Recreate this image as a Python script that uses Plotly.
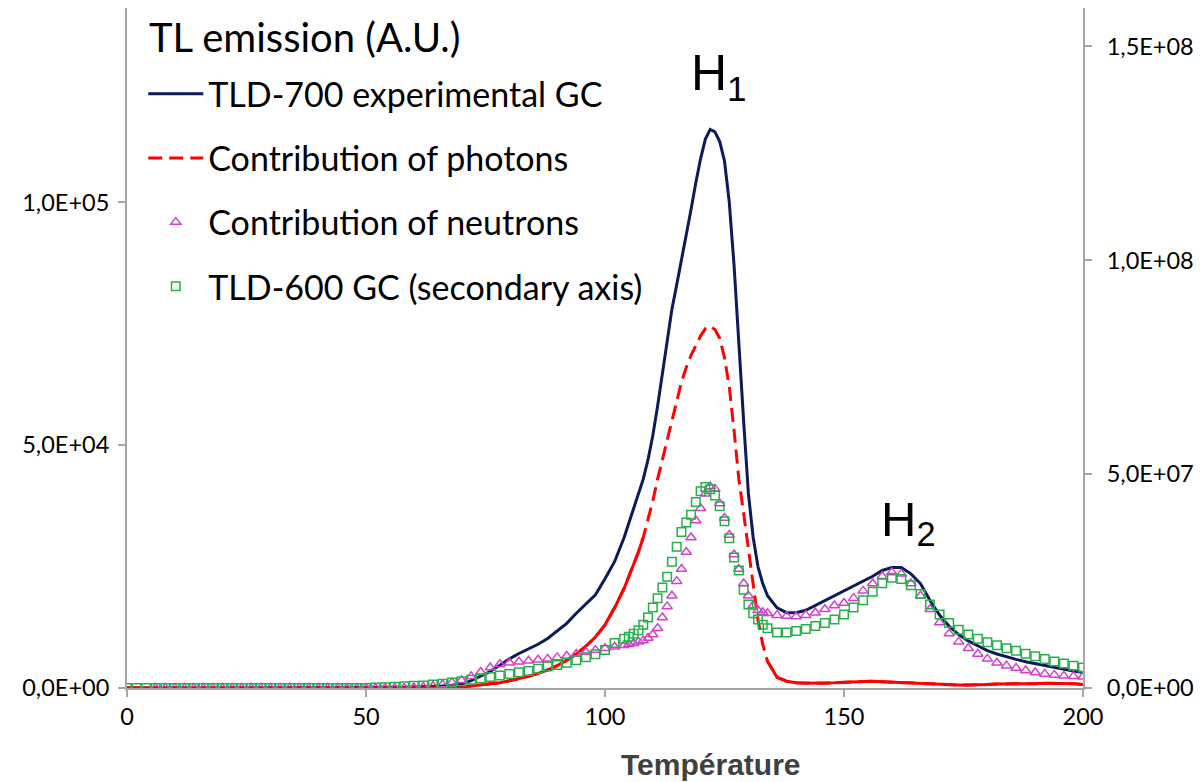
import plotly.graph_objects as go

# Temperature grid (x values): step 2, finer (step 1) around the main peak
temperature = ([0, 2, 4, 6, 8, 10, 12, 14, 16, 18, 20, 22, 24, 26, 28, 30, 32, 34, 36, 38,
                40, 42, 44, 46, 48, 50, 52, 54, 56, 58, 60, 62, 64, 66, 68, 70, 72, 74, 76, 78,
                80, 82, 84, 86, 88, 90, 92, 94, 96, 98, 100, 102]
               + [104, 105, 106, 107, 108, 109, 110, 111, 112, 113, 114, 115, 116, 117, 118, 119,
                  120, 121, 122, 123, 124, 125, 126, 127, 128, 129, 130, 131, 132, 133, 134]
               + [136, 138, 140, 142, 144, 146, 148, 150, 152, 154, 156, 158, 160, 162, 164, 166,
                  168, 170, 172, 174, 176, 178, 180, 182, 184, 186, 188, 190, 192, 194, 196, 198, 200])

# TLD-700 experimental glow curve (primary axis)
tld700 = ([0, 0, 0, 0, 0, 0, 0, 0, 0, 0, 0, 0, 0, 0, 0, 0, 0, 0, 0, 0,
           0, 20, 30, 40, 50, 60, 80, 100, 130, 160, 200, 250, 300, 400, 550, 800, 1500, 2500, 3400, 4700,
           6000, 7100, 8000, 9000, 10200, 11800, 13300, 15400, 17300, 19200, 22500, 26000]
          + [31000, 34000, 37000, 40000, 43000, 47000, 52000, 58000, 65000, 71500, 78000, 83000, 88000, 93000, 98500, 104000,
             109000, 113000, 115000, 114500, 112500, 108500, 100000, 87000, 70000, 55000, 40000, 31000, 25000, 21500, 19000]
          + [16500, 15500, 15500, 16000, 17000, 18000, 19000, 20000, 21000, 22000, 23000, 24200, 24800, 24800, 23500, 21500,
             18000, 15000, 12700, 11000, 9700, 8700, 7700, 7000, 6400, 5900, 5400, 5000, 4600, 4200, 3900, 3500, 3200])

# Contribution of photons (primary axis)
photons = ([0, 0, 0, 0, 0, 0, 0, 0, 0, 0, 0, 0, 0, 0, 0, 0, 0, 0, 0, 0,
            0, 0, 0, 0, 0, 0, 0, 0, 0, 0, 0, 0, 0, 0, 0, 200, 400, 600, 800, 1100,
            1500, 1900, 2400, 3000, 3700, 4600, 5700, 7000, 8600, 10500, 13000, 16500]
           + [20500, 23000, 25500, 28000, 31000, 34500, 38500, 43000, 47000, 51000, 55000, 59000, 63000, 66000, 68500, 70500,
              72500, 74000, 74500, 73800, 72000, 68000, 62000, 53000, 43000, 36000, 29000, 21000, 14000, 9000, 5500]
           + [2200, 1400, 1100, 1000, 1000, 1000, 1100, 1200, 1300, 1400, 1400, 1300, 1200, 1100, 1000, 900,
              800, 700, 600, 600, 600, 600, 700, 800, 800, 900, 900, 900, 1000, 1000, 1000, 900, 700])

# Contribution of neutrons (primary axis)
neutrons = ([None, None, None, 0, 0, 0, 0, 0, 0, 0, 0, 0, 0, 0, 0, 0, 0, 0, 0, 0,
             0, 0, 0, 0, 0, 0, 0, 0, 0, 0, 100, 200, 400, 700, 1100, 1600, 2400, 3300, 4200, 4900,
             5200, 5400, 5600, 5800, 6000, 6300, 6600, 7000, 7400, 7800, 8200, 8500]
            + [8800, 9000, 9200, 9500, 9800, 10300, 11000, 12300, 14500, 16800, 19000, 22000, 24500, 28000, 31000, 34500,
               37000, 40000, 41500, 41000, 38000, 35000, 31500, 27500, 24500, 21500, 19000, 17000, 16000, 15600, 15400]
            + [15000, 14800, 14700, 15000, 15500, 16200, 17000, 17500, 18500, 20000, 21500, 23000, 23800, 23500, 21500, 19000,
               16200, 13500, 11200, 9500, 8200, 7000, 6000, 5200, 4600, 4100, 3600, 3200, 2900, 2700, 2500, 2400, 2300])

# TLD-600 glow curve (secondary axis)
tld600 = ([0, 0, 0, 0, 0, 0, 0, 0, 0, 0, 0, 0, 0, 0, 0, 0, 0, 0, 0, 0,
           0, 0, 0, 0, 0, 0, 1e5, 2e5, 3e5, 4e5, 5e5, 6e5, 8e5, 1.0e6, 1.3e6, 1.6e6, 1.9e6, 2.2e6, 2.6e6, 2.9e6,
           3.3e6, 3.7e6, 4.0e6, 4.5e6, 5.0e6, 5.4e6, 5.9e6, 6.5e6, 7.2e6, 7.9e6, 8.9e6, 1.05e7]
          + [1.15e7, 1.2e7, 1.27e7, 1.35e7, 1.48e7, 1.65e7, 1.88e7, 2.1e7, 2.35e7, 2.6e7, 2.95e7, 3.3e7, 3.65e7, 3.87e7, 4.05e7, 4.35e7,
             4.6e7, 4.7e7, 4.65e7, 4.5e7, 4.25e7, 3.9e7, 3.5e7, 3.05e7, 2.75e7, 2.3e7, 1.95e7, 1.75e7, 1.6e7, 1.48e7, 1.4e7]
          + [1.3e7, 1.3e7, 1.33e7, 1.38e7, 1.45e7, 1.52e7, 1.6e7, 1.72e7, 1.88e7, 2.05e7, 2.25e7, 2.45e7, 2.58e7, 2.55e7, 2.4e7, 2.2e7,
             1.95e7, 1.72e7, 1.52e7, 1.36e7, 1.25e7, 1.15e7, 1.07e7, 1.0e7, 9.3e6, 8.7e6, 8.0e6, 7.4e6, 6.8e6, 6.2e6, 5.7e6, 5.2e6, 4.8e6])

assert len(temperature) == len(tld700) == len(photons) == len(neutrons) == len(tld600)

x_ticks = [0, 50, 100, 150, 200]
y1_ticks = [0, 5e4, 1e5]
y1_labels = ["0,0E+00", "5,0E+04", "1,0E+05"]
y2_ticks = [0, 5e7, 1e8, 1.5e8]
y2_labels = ["0,0E+00", "5,0E+07", "1,0E+08", "1,5E+08"]

NAVY = "#0c1a5a"
RED = "#ff0000"
MAGENTA = "#d43fcc"
GREEN = "#27b04a"
AXIS = "#a6a6a6"
FONT = "Lato"

fig = go.Figure()

fig.add_trace(go.Scatter(x=temperature, y=tld700, mode="lines", name="TLD-700 experimental GC",
                         line=dict(color=NAVY, width=3), legendgroup="a"))
fig.add_trace(go.Scatter(x=temperature, y=photons, mode="lines", name="Contribution of photons",
                         line=dict(color=RED, width=3, dash="14px,7px"), legendgroup="b"))
# the flat parts of the photon curve render solid in the reference
lo = [i for i, t in enumerate(temperature) if t <= 108]
hi = [i for i, t in enumerate(temperature) if t >= 134]
fig.add_trace(go.Scatter(x=[temperature[i] for i in lo], y=[photons[i] for i in lo], mode="lines",
                         line=dict(color=RED, width=3), showlegend=False, hoverinfo="skip"))
fig.add_trace(go.Scatter(x=[temperature[i] for i in hi], y=[photons[i] for i in hi], mode="lines",
                         line=dict(color=RED, width=3), showlegend=False, hoverinfo="skip"))
fig.add_trace(go.Scatter(x=temperature, y=neutrons, mode="markers", name="Contribution of neutrons",
                         marker=dict(symbol="triangle-up-open", size=9, color=MAGENTA, line=dict(width=1.5, color=MAGENTA)),
                         legendgroup="c"))
fig.add_trace(go.Scatter(x=temperature, y=tld600, mode="markers", name="TLD-600 GC (secondary axis)",
                         yaxis="y2",
                         marker=dict(symbol="square-open", size=8.5, color=GREEN, line=dict(width=1.5, color=GREEN)),
                         legendgroup="d"))

fig.update_layout(
    width=1201, height=782,
    margin=dict(l=127, r=118, t=8, b=94),
    paper_bgcolor="white", plot_bgcolor="white",
    font=dict(family=FONT, size=23.5, color="#000000"),
    showlegend=True,
    legend=dict(x=0.017, y=0.916, xanchor="left", yanchor="top",
                bgcolor="rgba(0,0,0,0)", font=dict(family=FONT, size=34, color="#000000"),
                traceorder="grouped", tracegroupgap=17, itemwidth=55),
    xaxis=dict(range=[0, 200], tickvals=x_ticks, ticks="outside", ticklen=7, tickcolor=AXIS, tickwidth=1.5,
               showline=True, linecolor=AXIS, linewidth=2, showgrid=False, zeroline=False,
               tickfont=dict(family=FONT, size=23.5)),
    yaxis=dict(range=[0, 1.4e5], tickvals=y1_ticks, ticktext=y1_labels, ticks="outside", ticklen=7,
               tickcolor=AXIS, tickwidth=1.5, showline=True, linecolor=AXIS, linewidth=2,
               showgrid=False, zeroline=False, tickfont=dict(family=FONT, size=23.5), ticklabelstandoff=4),
    yaxis2=dict(range=[0, 1.59e8], tickvals=y2_ticks, ticktext=y2_labels, overlaying="y", side="right",
                ticks="outside", ticklen=7, tickcolor=AXIS, tickwidth=1.5, showline=True, linecolor=AXIS,
                linewidth=2, showgrid=False, zeroline=False, tickfont=dict(family=FONT, size=23.5),
                ticklabelstandoff=10),
    annotations=[
        dict(x=0.021, y=0.957, xref="paper", yref="paper", text="TL emission (A.U.)", showarrow=False,
             xanchor="left", yanchor="middle", font=dict(family=FONT, size=40, color="#000000")),
        dict(x=117.6, y=1.26e5, xref="x", yref="y", text="H<sub>1</sub>", showarrow=False,
             xanchor="left", yanchor="middle", font=dict(family="Liberation Sans", size=50, color="#000000")),
        dict(x=157.3, y=3.4e4, xref="x", yref="y", text="H<sub>2</sub>", showarrow=False,
             xanchor="left", yanchor="middle", font=dict(family="Liberation Sans", size=49, color="#000000")),
        dict(x=0.611, y=-0.112, xref="paper", yref="paper", text="<b>Température</b>", showarrow=False,
             xanchor="center", yanchor="middle", font=dict(family="Liberation Sans", size=30, color="#404040")),
    ],
)

fig.write_html("out.html")
